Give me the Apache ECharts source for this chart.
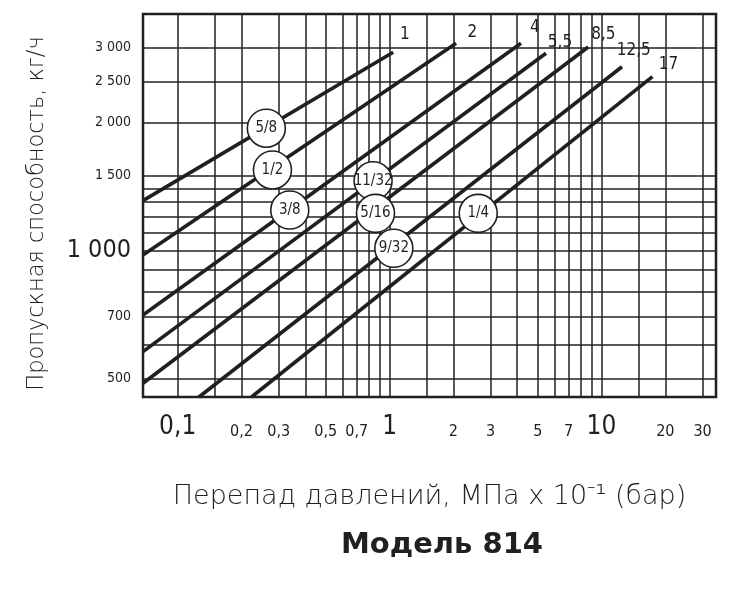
<!DOCTYPE html>
<html><head><meta charset="utf-8">
<script src="https://cdn.jsdelivr.net/npm/echarts@6/dist/echarts.min.js"></script>
<style>html,body{margin:0;padding:0;background:#fff}#c{width:741px;height:615px}</style>
</head><body><div id="c"></div>
<script>
// ---- data ----
const xGridValues = [0.1,0.15,0.2,0.3,0.4,0.5,0.6,0.7,0.8,0.9,1,1.5,2,3,4,5,6,7,8,9,10,15,20,30];
const yGridValues = [500,600,700,800,900,1000,1100,1200,1300,1400,1500,2000,2500,3000];
const xTickValues = [0.1,0.2,0.3,0.5,0.7,1,2,3,5,7,10,20,30];
const xTickLabels = ['0,1','0,2','0,3','0,5','0,7','1','2','3','5','7','10','20','30'];
const xMajorTicks = [0.1,1,10];
const yTickValues = [500,700,1000,1500,2000,2500,3000];
const yTickLabels = ['500','700','1 000','1 500','2 000','2 500','3 000'];
const yMajorTicks = [1000];

const curveNames  = ['1','2','4','5,5','8,5','12,5','17'];
const curveStartX = [0.0686,0.0686,0.0686,0.0686,0.0686,0.126,0.223];
const curveStartY = [1311,977,706,579,488,453,453];
const curveEndX   = [1.04,2.06,4.17,5.47,8.66,12.5,17.4];
const curveEndY   = [2926,3073,3073,2910,3011,2706,2564];
const endLabelX   = [1.18,2.46,4.85,6.37,10.2,14.2,20.7];
const endLabelY   = [3213,3253,3337,3077,3213,2951,2732];

const orificeNames = ['5/8','1/2','3/8','11/32','5/16','9/32','1/4'];
const orificeX     = [0.262,0.280,0.338,0.836,0.858,1.047,2.62];
const orificeY     = [1940,1548,1246,1460,1224,1013,1224];

// ---- chart ----
const INK = '#231f20';
const NARROW = '"Liberation Sans Narrow","DejaVu Sans Condensed","Liberation Sans",sans-serif';
const TITLEF = '"DejaVu Sans","Noto Sans",sans-serif';

function findIdx(vals, v) {
  for (let i = 0; i < vals.length; i++) {
    if (Math.abs(Math.log10(vals[i]) - Math.log10(v)) < 1e-6) return i;
  }
  return -1;
}

const series = [];
series.push({
  type: 'line', name: 'grid', silent: true, z: 1,
  data: [[1, 1000]], symbol: 'none', lineStyle: { opacity: 0 },
  markLine: {
    silent: true, symbol: ['none','none'], animation: false,
    label: { show: false },
    lineStyle: { type: 'solid', color: INK, width: 1.5 },
    emphasis: { disabled: true },
    data: xGridValues.map(v => ({ xAxis: v })).concat(yGridValues.map(v => ({ yAxis: v })))
  }
});
curveNames.forEach((n, i) => {
  series.push({
    type: 'line', name: n, z: 3, symbol: 'none', silent: true,
    lineStyle: { color: INK, width: 3.6, cap: 'butt' },
    data: [[curveStartX[i], curveStartY[i]], [curveEndX[i], curveEndY[i]]]
  });
});
series.push({
  type: 'scatter', name: 'endLabels', z: 4, silent: true,
  symbolSize: 0, itemStyle: { color: 'transparent', opacity: 1 },
  data: curveNames.map((n, i) => [endLabelX[i], endLabelY[i], n]),
  label: {
    show: true, position: 'inside', formatter: p => p.data[2],
    color: INK, fontFamily: NARROW, fontSize: 17,
    backgroundColor: '#fff', padding: [1, 2, 0, 2]
  }
});
series.push({
  type: 'scatter', name: 'orifices', z: 5, silent: true,
  symbol: 'circle', symbolSize: 38,
  itemStyle: { color: '#fff', borderColor: INK, borderWidth: 1.6, opacity: 1 },
  data: orificeNames.map((n, i) => [orificeX[i], orificeY[i], n]),
  label: {
    show: true, position: 'inside', formatter: p => p.data[2],
    color: INK, fontFamily: NARROW, fontSize: 15
  }
});

const option = {
  animation: false,
  backgroundColor: '#fff',
  title: {
    text: 'Модель 814', left: 437, top: 526, textAlign: 'center',
    textStyle: { fontFamily: TITLEF, fontWeight: 'bold', fontSize: 29, color: INK }
  },
  grid: {
    left: 143, right: 25, top: 14, bottom: 218,
    show: true, borderColor: INK, borderWidth: 2.5, backgroundColor: 'transparent'
  },
  xAxis: {
    type: 'log', logBase: 10, min: 0.0686, max: 34.7,
    name: 'Перепад давлений, МПа x 10⁻¹ (бар)',
    nameLocation: 'middle', nameGap: 86,
    nameTextStyle: { fontFamily: TITLEF, fontWeight: 200, fontSize: 27, color: INK },
    axisLine: { show: false }, axisTick: { show: false }, splitLine: { show: false },
    axisLabel: {
      customValues: xTickValues, margin: 43, verticalAlign: 'bottom', color: INK,
      formatter: v => {
        const i = findIdx(xTickValues, v);
        if (i < 0) return '';
        const big = findIdx(xMajorTicks, v) >= 0;
        return big ? '{big|' + xTickLabels[i] + '}' : '{small|' + xTickLabels[i] + '}';
      },
      rich: {
        big: { fontFamily: NARROW, fontSize: 26, color: INK },
        small: { fontFamily: NARROW, fontSize: 16, color: INK }
      }
    }
  },
  yAxis: {
    type: 'log', logBase: 10, min: 453, max: 3600,
    name: 'Пропускная способность, кг/ч',
    nameLocation: 'middle', nameGap: 94, nameRotate: 90,
    nameTextStyle: { fontFamily: TITLEF, fontWeight: 200, fontSize: 22.5, color: INK, padding: [0, 16, 0, 0] },
    axisLine: { show: false }, axisTick: { show: false }, splitLine: { show: false },
    axisLabel: {
      customValues: yTickValues, margin: 12, color: INK,
      formatter: v => {
        const i = findIdx(yTickValues, v);
        if (i < 0) return '';
        const big = findIdx(yMajorTicks, v) >= 0;
        return big ? '{big|' + yTickLabels[i] + '}' : '{small|' + yTickLabels[i] + '}';
      },
      rich: {
        big: { fontFamily: NARROW, fontSize: 25, color: INK },
        small: { fontFamily: NARROW, fontSize: 14, color: INK }
      }
    }
  },
  series: series
};

const chart = echarts.init(document.getElementById('c'), null, { renderer: 'canvas' });
chart.setOption(option);
</script>
</body></html>
